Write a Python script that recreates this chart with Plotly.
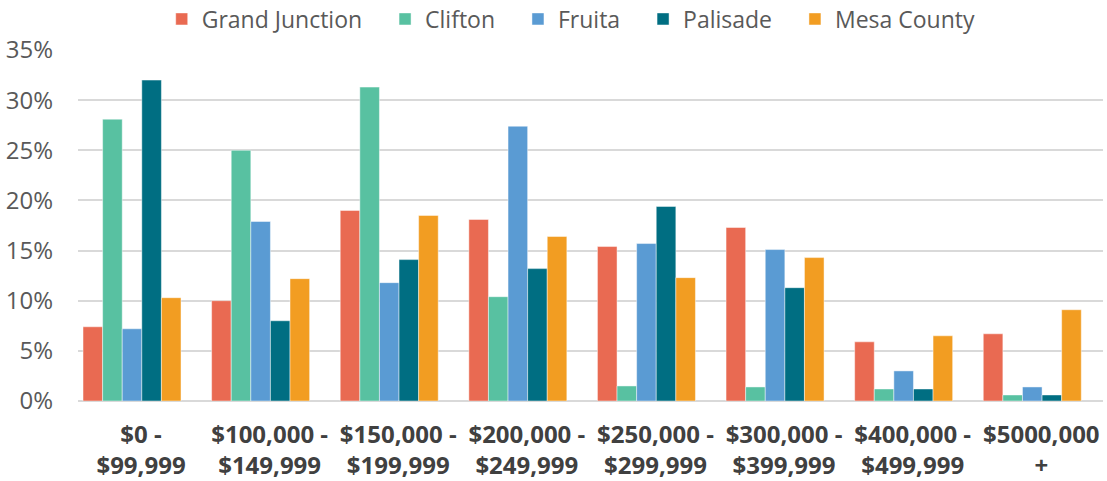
import plotly.graph_objects as go

categories = ["$0 -<br>$99,999", "$100,000 -<br>$149,999", "$150,000 -<br>$199,999",
              "$200,000 -<br>$249,999", "$250,000 -<br>$299,999", "$300,000 -<br>$399,999",
              "$400,000 -<br>$499,999", "$5000,000<br>+"]

grand_junction = [7.4, 10.0, 19.0, 18.1, 15.4, 17.3, 5.9, 6.7]
clifton        = [28.1, 25.0, 31.3, 10.4, 1.5, 1.4, 1.2, 0.6]
fruita         = [7.2, 17.9, 11.8, 27.4, 15.7, 15.1, 3.0, 1.4]
palisade       = [32.0, 8.0, 14.1, 13.2, 19.4, 11.3, 1.2, 0.6]
mesa_county    = [10.3, 12.2, 18.5, 16.4, 12.3, 14.3, 6.5, 9.1]

series = [
    ("Grand Junction", grand_junction, "#E96A52"),
    ("Clifton", clifton, "#58C1A1"),
    ("Fruita", fruita, "#5A9BD3"),
    ("Palisade", palisade, "#006E82"),
    ("Mesa County", mesa_county, "#F29D22"),
]

y_ticks = [0, 5, 10, 15, 20, 25, 30, 35]
y_tick_labels = [f"{v}%" for v in y_ticks]

fig = go.Figure()
pad = "\u00a0\u00a0\u00a0"
for i, (name, vals, color) in enumerate(series):
    fig.add_trace(go.Bar(
        x=list(range(len(categories))), y=vals,
        name=name + (pad if i < len(series) - 1 else ""),
        marker=dict(color=color, line=dict(color="rgba(255,255,255,0.45)", width=1)),
    ))

fig.update_layout(
    width=1107, height=481,
    barmode="group", bargap=0.238, bargroupgap=0,
    paper_bgcolor="white", plot_bgcolor="white",
    margin=dict(l=78, r=4, t=50, b=80, autoexpand=False),
    font=dict(family="Open Sans", color="#595959"),
    legend=dict(orientation="h", xref="container", yref="container",
                x=0.516, xanchor="center", y=1 - 19 / 481, yanchor="middle",
                font=dict(size=23, color="#595959"), traceorder="normal"),
    xaxis=dict(tickmode="array", tickvals=list(range(len(categories))), ticktext=categories,
               range=[-0.42, 7.55], showgrid=False, zeroline=False, showline=False,
               tickfont=dict(size=24, color="#404040", family="Open Sans", weight="bold"),
               ticks="", ticklabelstandoff=17, ticklabelshift=9, automargin=False),
    yaxis=dict(range=[0, 35], tickmode="array", tickvals=y_ticks, ticktext=y_tick_labels,
               showgrid=True, gridcolor="#D9D9D9", gridwidth=1.5,
               zeroline=True, zerolinecolor="#D9D9D9", zerolinewidth=1.5,
               tickfont=dict(size=24, color="#595959"), ticks="", ticklabelstandoff=24,
               automargin=False),
)

fig.write_html("out.html", config={"displayModeBar": False},
               post_script="document.body.style.margin='0';")
